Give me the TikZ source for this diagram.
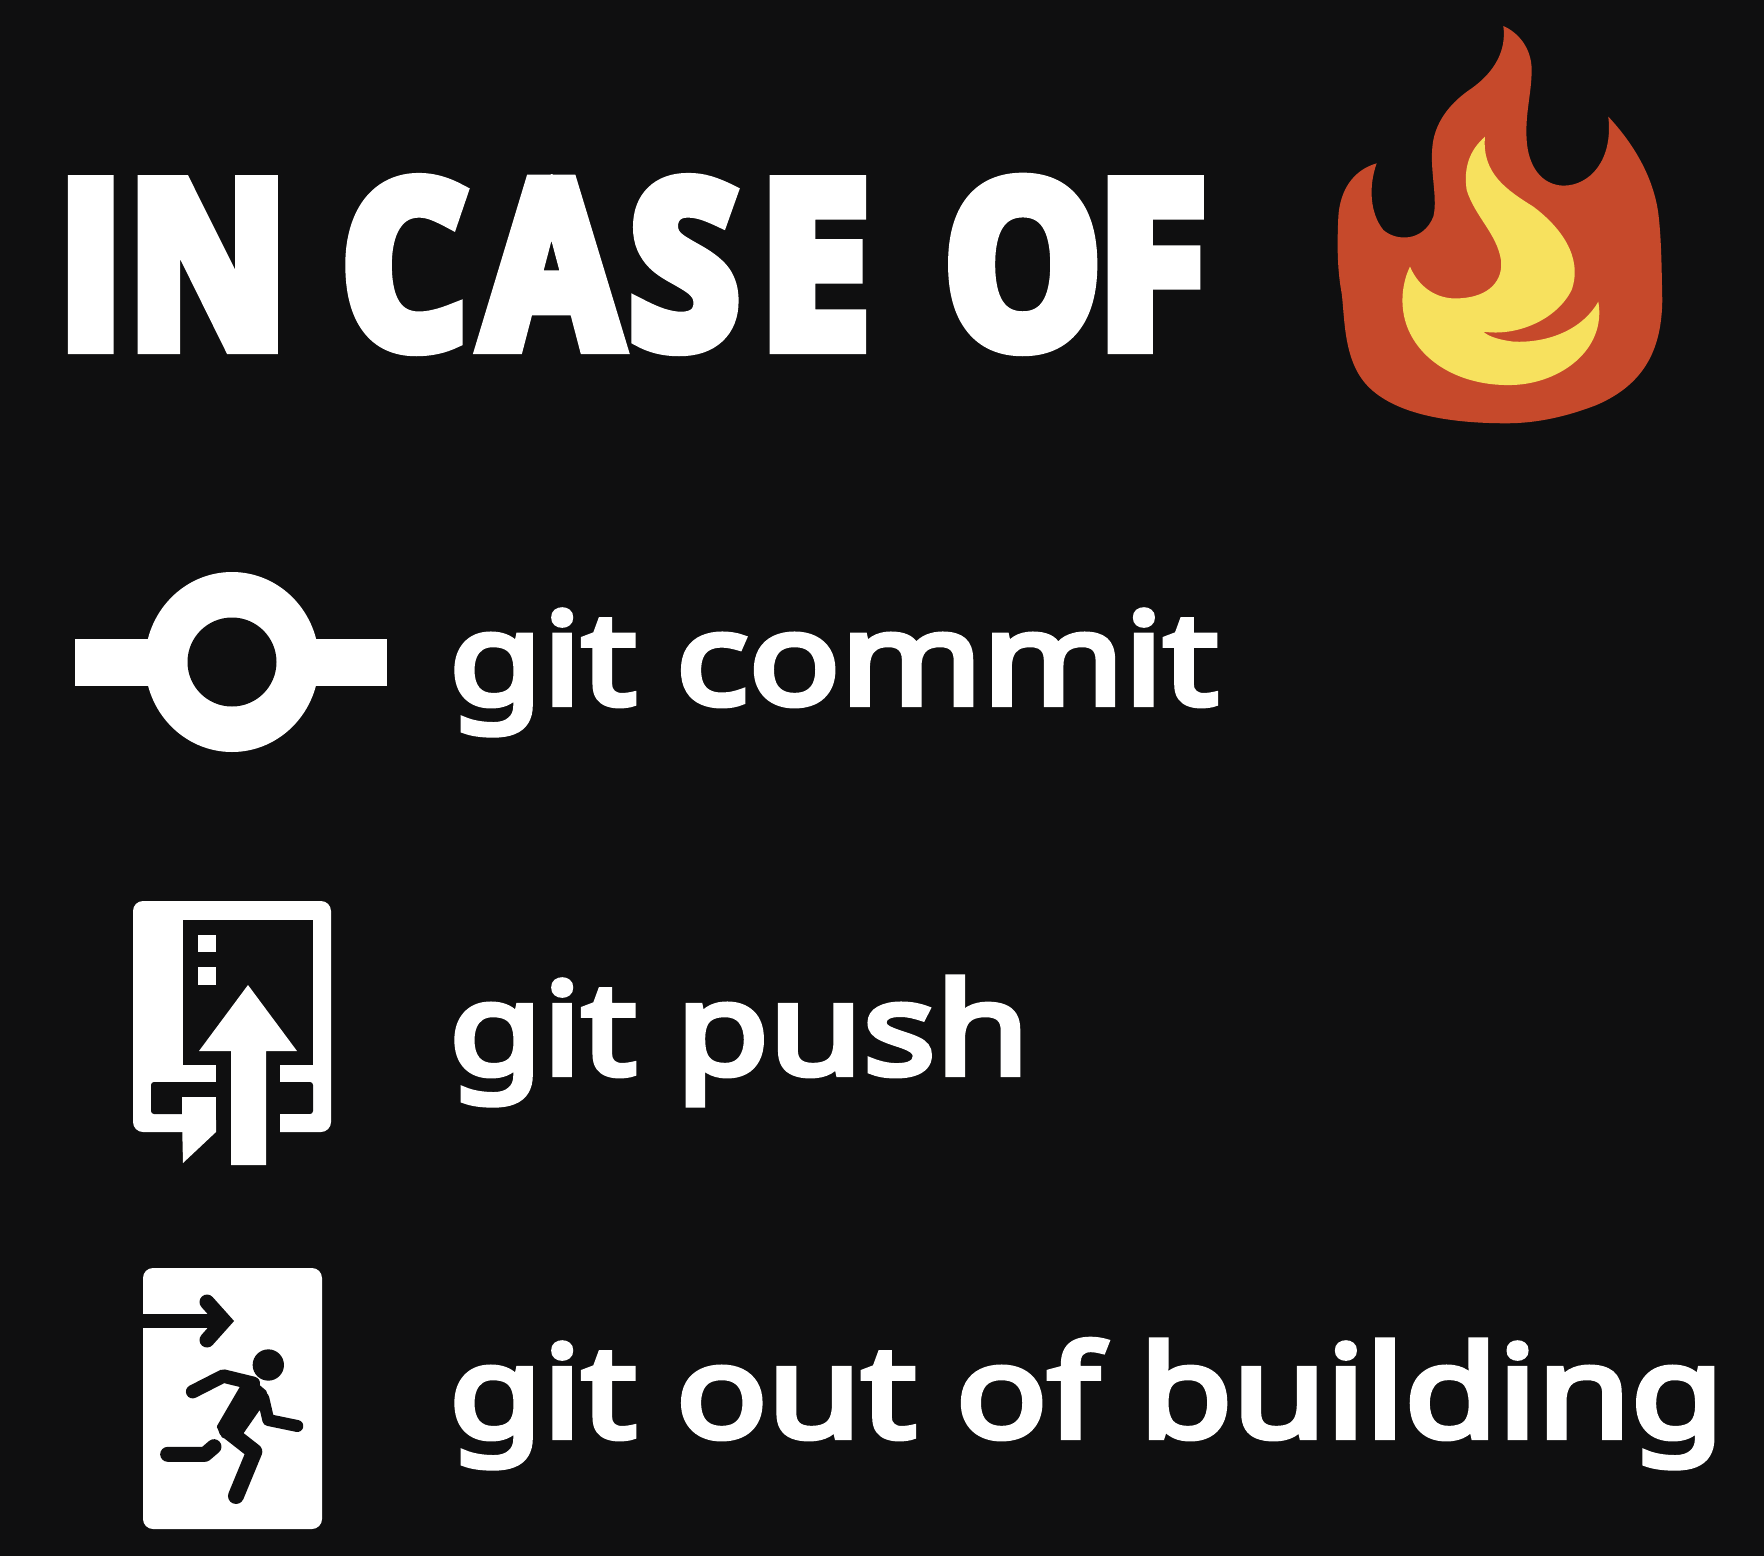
\documentclass[tikz,border=0pt]{standalone}
\usepackage{fontspec}
\setmainfont{Noto Sans}[FakeBold=5,FakeStretch=1.195]
\newfontfamily\titlefont{Open Sans}[UprightFeatures={FakeBold=7,FakeStretch=0.86},BoldFeatures={FakeBold=7,FakeStretch=0.86}]
\definecolor{bgc}{HTML}{0F0F10}
\definecolor{flameo}{HTML}{C6492B}
\definecolor{flamey}{HTML}{F7E15E}
\tikzset{
  title/.style={anchor=base west,inner sep=0pt,text=white,font=\titlefont\bfseries\fontsize{228}{228}\selectfont},
  cmd/.style={anchor=base west,inner sep=0pt,text=white,font=\fontsize{127}{127}\selectfont},
  ink/.style={fill=white,draw=none},
  hole/.style={fill=bgc,draw=none}
}
\begin{document}
\begin{tikzpicture}[x=1pt,y=-1pt]
\useasboundingbox (0,0) rectangle (1764,1556);
\fill[bgc] (0,0) rectangle (1764,1556);
\node[title] (t) at (58,346) {I\kern5pt N \kern3.5pt C\kern17pt A\kern11.4pt S\kern21.5pt E \kern24pt O\kern-3pt F};
\fill[hole] (535,160) rectangle (567,174.3);
\node[cmd] (c1) at (449,704) {git commit};
\node[cmd] (c2) at (449,1074) {git push};
\node[cmd] (c3) at (449,1437) {git out of building};
% flame
\begin{scope}[shift={(1300,0)},x=0.3333pt,y=-0.3333pt]
\fill[flameo] (610,78) .. controls (650,95) and (695,140) .. (695,210)
 .. controls (695,280) and (675,340) .. (680,420)
 .. controls (685,500) and (725,555) .. (790,557)
 .. controls (870,557) and (940,480) .. (925,350)
 .. controls (1000,430) and (1060,530) .. (1075,640)
 .. controls (1085,720) and (1085,820) .. (1087,900)
 .. controls (1085,1040) and (1040,1150) .. (890,1215)
 .. controls (800,1250) and (710,1270) .. (620,1270)
 .. controls (470,1270) and (300,1250) .. (210,1165)
 .. controls (130,1090) and (135,960) .. (125,880)
 .. controls (110,800) and (112,720) .. (115,650)
 .. controls (120,570) and (160,510) .. (230,490)
 .. controls (205,560) and (210,640) .. (250,690)
 .. controls (290,725) and (370,725) .. (400,650)
 .. controls (415,590) and (385,500) .. (400,420)
 .. controls (415,345) and (470,295) .. (515,265)
 .. controls (585,215) and (620,150) .. (610,78) -- cycle;
\fill[flamey] (555,410) .. controls (510,450) and (490,500) .. (500,570)
 .. controls (525,650) and (590,700) .. (603,780)
 .. controls (610,840) and (570,890) .. (480,895)
 .. controls (420,900) and (360,870) .. (330,800)
 .. controls (305,850) and (295,930) .. (330,1000)
 .. controls (380,1100) and (500,1160) .. (640,1155)
 .. controls (780,1150) and (920,1050) .. (895,905)
 .. controls (850,985) and (750,1030) .. (640,1025)
 .. controls (600,1020) and (565,1010) .. (550,995)
 .. controls (650,1010) and (770,960) .. (815,870)
 .. controls (850,770) and (780,680) .. (700,620)
 .. controls (620,570) and (545,520) .. (555,410) -- cycle;
\end{scope}
% commit icon
\fill[ink] (75,639) rectangle (387,686);
\fill[ink] (232,662) ellipse[x radius=87,y radius=90];
\fill[hole] (232,662) circle (44.5);
% push icon
\fill[ink,rounded corners=10pt] (133,901) rectangle (331,1132);
\fill[hole] (183,920) rectangle (313,1065);
\fill[hole] (216,1060) rectangle (280,1170);
\fill[hole,rounded corners=3pt] (151,1082) -- (313,1082) -- (313,1114) -- (151,1114) -- cycle;
\fill[ink] (182,1097) rectangle (216,1132);
\fill[ink] (183,1065) rectangle (216,1082);
\fill[ink] (280,1065) rectangle (313,1082);
\fill[ink] (280,1114) rectangle (313,1132);
\fill[ink] (198,935) rectangle (216,952);
\fill[ink] (198,967) rectangle (216,985);
\fill[ink] (183,1163) -- (182,1120) -- (216,1120) -- (216,1132) -- cycle;
\fill[ink] (248,985) -- (297,1051) -- (266,1051) -- (266,1165) -- (231,1165) -- (231,1051) -- (199,1051) -- cycle;
% exit icon
\fill[ink,rounded corners=10pt] (143,1268) rectangle (322,1529);
\fill[hole] (143,1313.5) rectangle (220,1328);
\draw[bgc,line width=15pt,line cap=round,line join=miter] (207,1302) -- (224,1321) -- (207,1340);
\begin{scope}[shift={(120,1250)},x=0.3333pt,y=-0.3333pt]
\fill[hole] (445,345) circle (47);
\draw[bgc,line width=13.5pt,line cap=round,line join=round] (218,425) -- (310,378) -- (400,400);
\draw[bgc,line width=12pt,line cap=round,line join=round] (430,445) -- (445,510) -- (532,528);
\draw[bgc,line width=3pt,line join=round,fill=bgc] (365,410) -- (400,395) -- (435,425) -- (448,470) -- (415,478) -- (365,550) -- (310,560) -- (295,530) -- cycle;
\draw[bgc,line width=16pt,line join=round,line cap=round] (320,540) -- (403,605) -- (348,738);
\draw[bgc,line width=15pt,line join=round,line cap=round] (143,613) -- (255,613) -- (282,590);
\end{scope}
\end{tikzpicture}
\end{document}
